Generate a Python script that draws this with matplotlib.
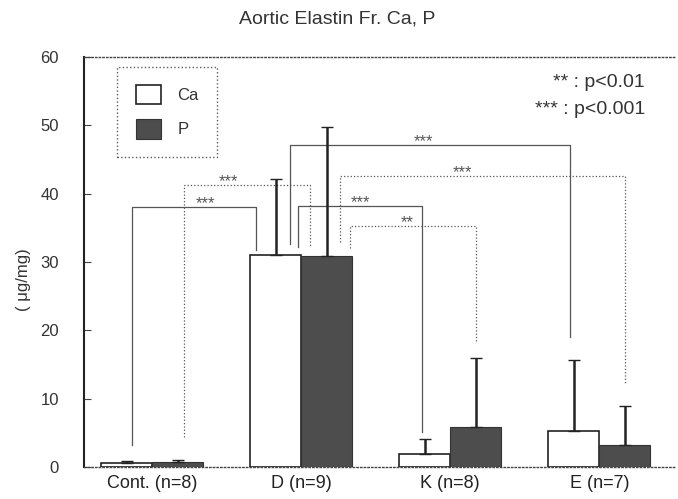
import numpy as np
import matplotlib.pyplot as plt

plt.rcParams['font.family'] = ['Liberation Sans', 'DejaVu Sans']

# data
groups = ['Cont. (n=8)', 'D (n=9)', 'K (n=8)', 'E (n=7)']
ca_mean = [0.6, 31.0, 1.9, 5.3]
ca_sd = [0.3, 11.2, 2.2, 10.3]
p_mean = [0.7, 30.9, 5.9, 3.2]
p_sd = [0.3, 18.8, 10.1, 5.8]

# significance brackets: (group_a, series_a, group_b, series_b, height, foot_a, foot_b, label)
brackets = [
    (0, 'Ca', 1, 'Ca', 38.1, 3.2, 31.8, '***'),
    (0, 'P', 1, 'P', 41.2, 4.4, 32.3, '***'),
    (1, 'Ca', 3, 'Ca', 47.1, 32.6, 19.0, '***'),
    (1, 'P', 3, 'P', 42.6, 32.9, 12.1, '***'),
    (1, 'Ca', 2, 'Ca', 38.2, 32.2, 5.1, '***'),
    (1, 'P', 2, 'P', 35.3, 32.0, 18.2, '**'),
]
# leg offsets from bar centre and label placement (style only)
leg_shift = [(0.037, -0.131), (0.044, -0.111), (0.097, -0.024),
             (0.091, 0.0), (0.151, -0.017), (0.158, 0.0)]
label_x = [0.36, 0.51, 1.82, 2.08, 1.40, 1.71]

x = np.arange(len(groups))
w = 0.342
ink = '#222222'

fig = plt.figure(figsize=(6.78, 4.99), dpi=100)
ax = fig.add_axes([0.124, 0.064, 0.872, 0.822])

ax.bar(x - w / 2, ca_mean, w, color='white', edgecolor=ink, linewidth=1.2, label='Ca', zorder=3)
ax.bar(x + w / 2, p_mean, w, color='#4d4d4d', edgecolor='#333333', linewidth=0.8, label='P', zorder=3)
ax.errorbar(x - w / 2, ca_mean, yerr=[np.zeros(4), ca_sd], fmt='none', ecolor=ink,
            elinewidth=1.8, capsize=4, capthick=1, zorder=4)
ax.errorbar(x + w / 2, p_mean, yerr=[np.zeros(4), p_sd], fmt='none', ecolor=ink,
            elinewidth=1.8, capsize=4, capthick=1, zorder=4)

centre = {'Ca': -w / 2, 'P': w / 2}
for (ga, sa, gb, sb, h, fa, fb, lab), (da, db), lx in zip(brackets, leg_shift, label_x):
    xa = ga + centre[sa] + da
    xb = gb + centre[sb] + db
    ls = '-' if sa == 'Ca' else ':'
    ax.plot([xa, xa, xb, xb], [fa, h, h, fb], color='#555555', lw=0.9, ls=ls, zorder=2)
    ax.text(lx, h - 0.6, lab, ha='center', va='bottom', fontsize=12, color='#555555')

ax.set_xlim(-0.456, 3.51)
ax.set_ylim(0, 60)
ax.set_yticks(np.arange(0, 61, 10))
ax.tick_params(axis='y', direction='in', length=5, color='#444444', labelsize=12,
               labelcolor='#333333', pad=18)
ax.set_xticks(x)
ax.set_xticklabels(groups, fontsize=13, color='#222222')
ax.tick_params(axis='x', length=0, pad=6)

ax.spines['left'].set_color(ink)
ax.spines['left'].set_linewidth(1.5)
ax.spines['right'].set_visible(False)
for s in ('top', 'bottom'):
    ax.spines[s].set_linestyle(':')
    ax.spines[s].set_color('#444444')
    ax.spines[s].set_linewidth(1.0)

leg = ax.legend(loc='upper left', bbox_to_anchor=(0.056, 0.976), fontsize=12,
                handlelength=1.5, handleheight=1.4, labelspacing=0.9,
                borderpad=1.1, handletextpad=1.0, borderaxespad=0, fancybox=False)
leg.get_frame().set_linestyle(':')
leg.get_frame().set_edgecolor('#333333')
leg.get_frame().set_linewidth(1.0)
for t in leg.get_texts():
    t.set_color('#333333')

ax.text(0.949, 0.937, '** : p<0.01', transform=ax.transAxes, ha='right', va='center',
        fontsize=14, color='#333333')
ax.text(0.949, 0.871, '*** : p<0.001', transform=ax.transAxes, ha='right', va='center',
        fontsize=14, color='#333333')

fig.text(0.497, 0.962, 'Aortic Elastin Fr. Ca, P', ha='center', va='center',
         fontsize=14, color='#333333')
fig.text(0.034, 0.44, '( μg/mg)', rotation=90, ha='center', va='center',
         fontsize=12, color='#333333')

fig.savefig('out.png', dpi=100)
